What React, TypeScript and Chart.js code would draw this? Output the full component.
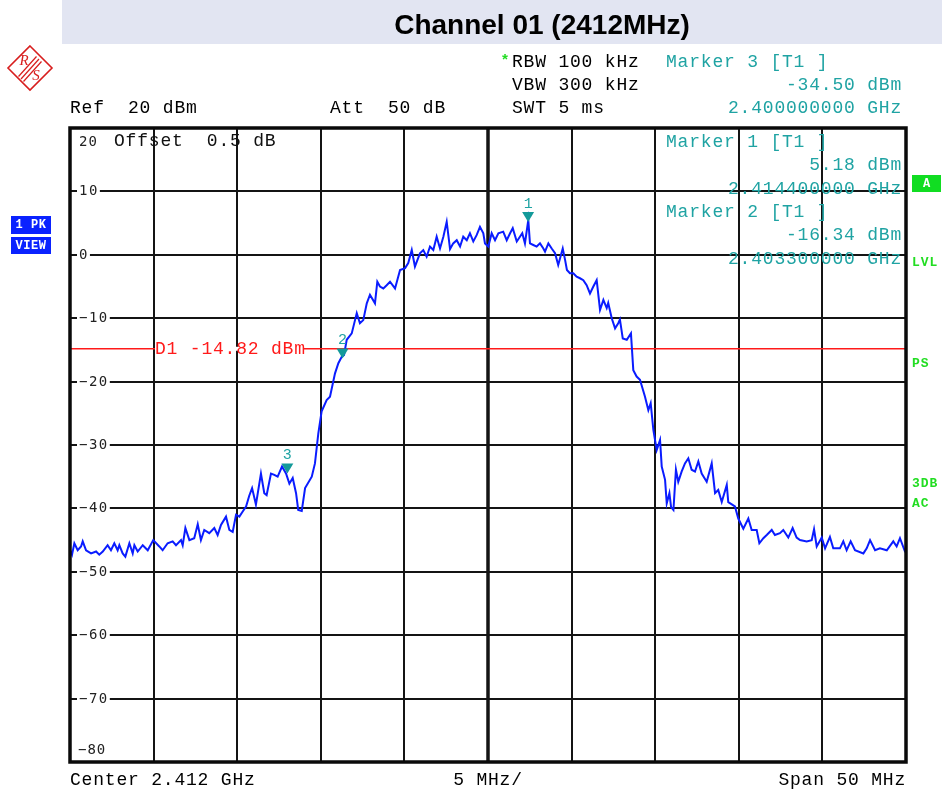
import React, { useEffect, useRef } from "react";
import { Chart, registerables } from "chart.js";

Chart.register(...registerables);

// ---- data ----
const START_MHZ = 2387;
const SPAN_MHZ = 50;
const DIV_MHZ = 5;
const REF_DBM = 20;
const BOTTOM_DBM = -80;

// offset from start frequency (MHz)
const spanOffsetMHz = [
  0.0, 0.12, 0.26, 0.46, 0.66, 0.76, 0.96, 1.26, 1.56, 1.75, 1.96, 2.25, 2.45, 2.65, 2.85, 2.95,
  3.15, 3.31, 3.55, 3.75, 3.85, 4.05, 4.35, 4.65, 4.98, 5.34, 5.54, 5.84, 6.14, 6.34, 6.64, 6.74,
  6.9, 7.14, 7.43, 7.64, 7.83, 8.03, 8.33, 8.63, 8.83, 9.03, 9.33, 9.53, 9.73, 9.93, 10.13, 10.33,
  10.53, 10.72, 10.89, 11.12, 11.42, 11.62, 11.76, 12.02, 12.22, 12.42, 12.68, 12.92, 13.12, 13.32,
  13.52, 13.65, 13.86, 14.06, 14.46, 14.65, 14.85, 15.05, 15.35, 15.55, 15.85, 16.05, 16.25, 16.39,
  16.55, 16.85, 17.15, 17.34, 17.54, 17.75, 17.94, 18.24, 18.38, 18.54, 18.74, 18.94, 19.14, 19.44,
  19.74, 20.04, 20.23, 20.44, 20.63, 20.93, 21.13, 21.33, 21.53, 21.73, 21.93, 22.13, 22.33, 22.53,
  22.73, 22.92, 23.13, 23.33, 23.52, 23.73, 23.92, 24.12, 24.32, 24.52, 24.72, 24.82, 25.02, 25.22,
  25.42, 25.62, 25.91, 26.12, 26.32, 26.48, 26.72, 26.91, 27.05, 27.21, 27.41, 27.51, 27.71, 27.91,
  28.11, 28.31, 28.41, 28.61, 28.81, 29.01, 29.2, 29.47, 29.61, 29.72, 29.9, 30.1, 30.3, 30.5,
  30.7, 30.9, 31.1, 31.3, 31.5, 31.7, 31.9, 32.1, 32.19, 32.4, 32.6, 32.79, 32.89, 33.06, 33.3,
  33.55, 33.69, 33.89, 34.09, 34.39, 34.59, 34.73, 34.89, 35.09, 35.29, 35.39, 35.59, 35.69, 35.85,
  35.95, 36.09, 36.24, 36.38, 36.58, 36.78, 36.98, 37.18, 37.38, 37.58, 37.78, 38.08, 38.38, 38.58,
  38.77, 38.98, 39.28, 39.37, 39.77, 39.97, 40.27, 40.57, 40.77, 41.07, 41.23, 41.47, 41.67, 41.97,
  42.16, 42.46, 42.66, 42.96, 43.22, 43.46, 43.66, 44.06, 44.36, 44.5, 44.66, 44.96, 45.16, 45.45,
  45.65, 46.05, 46.25, 46.45, 46.69, 46.95, 47.45, 47.65, 47.85, 48.15, 48.44, 48.85, 49.24, 49.44,
  49.64, 49.94, 50.0,
];

const levelDbm = [
  -46.6, -47.3, -45.5, -46.6, -46.0, -45.2, -46.6, -47.1, -46.8, -47.3, -46.8, -45.8, -46.6, -45.5, -46.6, -45.8,
  -47.1, -47.6, -45.5, -47.1, -45.8, -46.8, -45.8, -46.6, -45.0, -46.0, -46.6, -45.5, -45.2, -45.8, -45.0, -45.8,
  -43.1, -45.0, -44.7, -42.5, -45.0, -43.4, -43.9, -43.1, -44.2, -42.6, -41.3, -43.4, -43.7, -41.0, -41.3, -40.5,
  -39.7, -38.0, -36.8, -39.4, -34.5, -37.6, -37.9, -34.5, -34.7, -35.0, -33.4, -34.5, -36.1, -35.2,
  -37.6, -40.25, -40.4, -36.8, -35.0, -32.9, -28.2, -24.7, -22.9, -22.4, -18.7, -17.1, -16.1, -15.8,
  -13.4, -12.4, -9.2, -10.8, -10.3, -7.65, -6.3, -7.65, -4.25, -5.0, -5.3, -4.8, -4.25, -5.3,
  -2.4, -2.1, -1.3, 0.75, -1.85, 0.24, 0.75, -0.3, 1.3, 0.75, 2.85, 1.0, 2.85, 5.2,
  0.9, 1.8, 2.3, 1.3, 2.85, 2.3, 3.4, 2.1, 3.1, 4.4, 3.4, 1.8, 1.3, 3.4,
  2.3, 3.4, 3.65, 2.3, 3.4, 4.2, 2.1, 2.85, 3.4, 1.8, 5.5, 1.8, 1.55, 1.3,
  1.8, 1.0, 0.5, 1.8, 1.0, 0.25, -1.6, 1.0, -0.8, -2.4, -2.9, -2.9, -3.45, -3.7,
  -4.0, -4.8, -6.1, -5.0, -4.0, -8.7, -7.1, -8.4, -7.6, -10.0, -11.6, -10.8, -10.2, -13.2, -13.4,
  -12.4, -18.2, -19.2, -19.7, -22.4, -24.5, -23.4, -27.6, -30.8, -29.2, -33.4, -35.5, -39.2, -37.6,
  -39.8, -40.25, -33.9, -35.8, -34.2, -32.9, -32.1, -33.9, -34.2, -32.6, -34.5, -35.8, -32.9, -37.6,
  -37.1, -39.0, -36.3, -39.0, -39.7, -41.6, -43.2, -41.6, -43.4, -43.4, -45.5, -44.7, -44.2, -43.4,
  -44.2, -43.9, -43.4, -44.6, -43.1, -44.6, -45.0, -45.2, -45.0, -43.3, -46.0, -44.6, -46.3, -44.5,
  -46.3, -46.3, -45.2, -46.6, -45.2, -46.6, -47.1, -46.3, -45.0, -46.6, -46.3, -46.6, -45.2, -46.0,
  -44.7, -46.8, -46.8,
];

const yTickValues = [10, 0, -10, -20, -30, -40, -50, -60, -70];
const displayLineDbm = -14.82;
const displayLineLabel = "D1 -14.82 dBm";

const markerNames = ["1", "2", "3"];
const markerFreqMHz = [2414.4, 2403.3, 2400.0];
const markerLevelDbm = [5.18, -16.34, -34.5];

const titleText = "Channel 01 (2412MHz)";
const headerLeft = ["Ref  20 dBm", "Att  50 dB"];
const headerMid = ["RBW 100 kHz", "VBW 300 kHz", "SWT 5 ms"];
const marker3Block = ["Marker 3 [T1 ]", "-34.50 dBm", "2.400000000 GHz"];
const marker1Block = ["Marker 1 [T1 ]", "5.18 dBm", "2.414400000 GHz"];
const marker2Block = ["Marker 2 [T1 ]", "-16.34 dBm", "2.403300000 GHz"];
const offsetText = "Offset  0.5 dB";
const footer = ["Center 2.412 GHz", "5 MHz/", "Span 50 MHz"];
const sideLabels = ["LVL", "PS", "3DB", "AC"];

// ---- styles ----
const MONO = '"Liberation Mono", "DejaVu Sans Mono", monospace';
const TEAL = "#1fa3a3";
const TRACE = "#0a1cff";
const GREEN = "#22dd22";

function text(
  ctx: CanvasRenderingContext2D,
  s: string,
  x: number,
  y: number,
  font: string,
  color: string,
  align: CanvasTextAlign = "left",
  spacing = "0px"
) {
  ctx.save();
  ctx.font = font;
  (ctx as any).letterSpacing = spacing;
  ctx.fillStyle = color;
  ctx.textAlign = align;
  ctx.textBaseline = "middle";
  ctx.fillText(s, x, y);
  ctx.restore();
}

const HDR_FONT = `18px ${MONO}`;
const HDR_SP = "0.8px";

const analyzerPlugin = {
  id: "analyzer",
  beforeDraw(chart: any) {
    const ctx: CanvasRenderingContext2D = chart.ctx;
    ctx.save();
    ctx.fillStyle = "#ffffff";
    ctx.fillRect(0, 0, chart.width, chart.height);
    // title band
    ctx.fillStyle = "#e2e5f2";
    ctx.fillRect(62, 0, chart.width - 62, 44);
    ctx.restore();
    text(ctx, titleText, 542, 26, `bold 28px "Liberation Sans", Arial, sans-serif`, "#000", "center");

    // R&S logo
    ctx.save();
    ctx.strokeStyle = "#d81e1e";
    ctx.lineWidth = 1.6;
    const cx = 30, cy = 68, r = 22;
    ctx.beginPath();
    ctx.moveTo(cx, cy - r);
    ctx.lineTo(cx + r, cy);
    ctx.lineTo(cx, cy + r);
    ctx.lineTo(cx - r, cy);
    ctx.closePath();
    ctx.stroke();
    ctx.lineWidth = 1.2;
    for (const d of [-2.5, 0, 2.5]) {
      ctx.beginPath();
      ctx.moveTo(cx - 9 + d, cy + 11 + d);
      ctx.lineTo(cx + 9 + d, cy - 9 + d);
      ctx.stroke();
    }
    ctx.restore();
    text(ctx, "R", 24, 61, `italic 15px "Liberation Serif", serif`, "#d81e1e", "center");
    text(ctx, "S", 36, 76, `italic 15px "Liberation Serif", serif`, "#d81e1e", "center");

    // header
    text(ctx, "*", 505, 61, `bold 15px ${MONO}`, GREEN, "center");
    text(ctx, headerMid[0], 512, 62, HDR_FONT, "#000", "left", HDR_SP);
    text(ctx, headerMid[1], 512, 85, HDR_FONT, "#000", "left", HDR_SP);
    text(ctx, headerMid[2], 512, 108, HDR_FONT, "#000", "left", HDR_SP);
    text(ctx, headerLeft[0], 70, 108, HDR_FONT, "#000", "left", HDR_SP);
    text(ctx, headerLeft[1], 330, 108, HDR_FONT, "#000", "left", HDR_SP);
    text(ctx, marker3Block[0], 666, 62, HDR_FONT, TEAL, "left", HDR_SP);
    text(ctx, marker3Block[1], 902, 85, HDR_FONT, TEAL, "right", HDR_SP);
    text(ctx, marker3Block[2], 902, 108, HDR_FONT, TEAL, "right", HDR_SP);

    // left blue boxes
    ctx.save();
    ctx.fillStyle = "#0a22ff";
    ctx.fillRect(11, 216, 40, 18);
    ctx.fillRect(11, 237, 40, 17);
    ctx.restore();
    text(ctx, "1 PK", 31, 225, `bold 12px ${MONO}`, "#fff", "center", "0.5px");
    text(ctx, "VIEW", 31, 245.5, `bold 12px ${MONO}`, "#fff", "center", "0.5px");

    // right green labels
    ctx.save();
    ctx.fillStyle = "#11dd22";
    ctx.fillRect(912, 175, 29, 17);
    ctx.restore();
    text(ctx, "A", 926.5, 183.5, `bold 12px ${MONO}`, "#fff", "center");
    const sideY = [263, 364, 484, 504];
    sideLabels.forEach((s, i) =>
      text(ctx, s, 912, sideY[i], `bold 13px ${MONO}`, GREEN, "left", "1px")
    );

    // footer
    text(ctx, footer[0], 70, 780, HDR_FONT, "#000", "left", HDR_SP);
    text(ctx, footer[1], 488, 780, HDR_FONT, "#000", "center", HDR_SP);
    text(ctx, footer[2], 906, 780, HDR_FONT, "#000", "right", HDR_SP);
  },
  beforeDatasetsDraw(chart: any) {
    const ctx: CanvasRenderingContext2D = chart.ctx;
    const xs = chart.scales.x;
    const ys = chart.scales.y;
    const { left, right, top, bottom } = chart.chartArea;
    ctx.save();
    ctx.strokeStyle = "#141414";
    // vertical grid
    for (let i = 1; i < SPAN_MHZ / DIV_MHZ; i++) {
      const x = Math.round(xs.getPixelForValue(START_MHZ + i * DIV_MHZ));
      ctx.lineWidth = i === 5 ? 3.5 : 2;
      ctx.beginPath();
      ctx.moveTo(x, top);
      ctx.lineTo(x, bottom);
      ctx.stroke();
    }
    // horizontal grid
    ctx.lineWidth = 2;
    for (let v = REF_DBM - 10; v > BOTTOM_DBM; v -= 10) {
      const y = Math.round(ys.getPixelForValue(v));
      ctx.beginPath();
      ctx.moveTo(left, y);
      ctx.lineTo(right, y);
      ctx.stroke();
    }
    ctx.restore();

    // y tick labels on the grid
    const tickFont = `14px "DejaVu Sans Mono", monospace`;
    yTickValues.forEach((v) => {
      const y = Math.round(ys.getPixelForValue(v));
      const s = String(v).replace("-", "\u2212");
      ctx.save();
      ctx.font = tickFont;
      (ctx as any).letterSpacing = "1.5px";
      const w = ctx.measureText(s).width;
      ctx.fillStyle = "#fff";
      ctx.fillRect(left + 7, y - 3, w + 3, 6);
      ctx.restore();
      text(ctx, s, left + 9, y, tickFont, "#222", "left", "1.5px");
    });
    text(ctx, String(REF_DBM), left + 9, top + 14, tickFont, "#222", "left", "1px");
    text(ctx, String(BOTTOM_DBM).replace("-", "\u2212"), left + 8, bottom - 12, tickFont, "#222", "left", "1px");

    // display line
    const yd = ys.getPixelForValue(displayLineDbm);
    ctx.save();
    ctx.strokeStyle = "#ff1a1a";
    ctx.lineWidth = 1.5;
    ctx.beginPath();
    ctx.moveTo(left, yd);
    ctx.lineTo(right, yd);
    ctx.stroke();
    ctx.font = HDR_FONT;
    (ctx as any).letterSpacing = HDR_SP;
    const lw = ctx.measureText(displayLineLabel).width;
    ctx.fillStyle = "#fff";
    ctx.fillRect(155, yd - 2, lw - 2, 4);
    ctx.restore();
    text(ctx, displayLineLabel, 155, yd, HDR_FONT, "#ff1a1a", "left", HDR_SP);

    // in-plot texts
    text(ctx, offsetText, 114, 141, HDR_FONT, "#111", "left", HDR_SP);
  },
  afterDatasetsDraw(chart: any) {
    const ctx: CanvasRenderingContext2D = chart.ctx;
    const xs = chart.scales.x;
    const ys = chart.scales.y;
    const { left, right, top, bottom } = chart.chartArea;

    // markers
    markerNames.forEach((n, i) => {
      const px = xs.getPixelForValue(markerFreqMHz[i]);
      const py = ys.getPixelForValue(markerLevelDbm[i]);
      ctx.save();
      ctx.fillStyle = "#139a9a";
      ctx.beginPath();
      ctx.moveTo(px - 6, py - 10);
      ctx.lineTo(px + 6, py - 10);
      ctx.lineTo(px, py);
      ctx.closePath();
      ctx.fill();
      ctx.restore();
      text(ctx, n, px, py - 18, `15px ${MONO}`, TEAL, "center");
    });

    // border
    ctx.save();
    ctx.strokeStyle = "#0a0a0a";
    ctx.lineWidth = 3.5;
    ctx.strokeRect(left, top, right - left, bottom - top);
    ctx.restore();

    // marker readouts
    const rows = [142, 165, 189, 212, 235, 259];
    text(ctx, marker1Block[0], 666, rows[0], HDR_FONT, TEAL, "left", HDR_SP);
    text(ctx, marker1Block[1], 902, rows[1], HDR_FONT, TEAL, "right", HDR_SP);
    text(ctx, marker1Block[2], 902, rows[2], HDR_FONT, TEAL, "right", HDR_SP);
    text(ctx, marker2Block[0], 666, rows[3], HDR_FONT, TEAL, "left", HDR_SP);
    text(ctx, marker2Block[1], 902, rows[4], HDR_FONT, TEAL, "right", HDR_SP);
    text(ctx, marker2Block[2], 902, rows[5], HDR_FONT, TEAL, "right", HDR_SP);
  },
};

export default function App() {
  const ref = useRef<HTMLCanvasElement | null>(null);
  useEffect(() => {
    if (!ref.current) return;
    const points = spanOffsetMHz.map((o, i) => ({ x: START_MHZ + o, y: levelDbm[i] }));
    const chart = new Chart(ref.current, {
      type: "line",
      data: {
        datasets: [
          {
            data: points,
            borderColor: TRACE,
            borderWidth: 2,
            pointRadius: 0,
            tension: 0,
            fill: false,
          },
        ],
      },
      options: {
        responsive: false,
        animation: false,
        devicePixelRatio: 1,
        layout: { padding: { left: 70, right: 36, top: 128, bottom: 29 } },
        scales: {
          x: { type: "linear", min: START_MHZ, max: START_MHZ + SPAN_MHZ, display: false },
          y: { type: "linear", min: BOTTOM_DBM, max: REF_DBM, display: false },
        },
        plugins: { legend: { display: false }, tooltip: { enabled: false } },
      },
      plugins: [analyzerPlugin],
    } as any);
    return () => chart.destroy();
  }, []);
  return (
    <div style={{ position: "absolute", left: 0, top: 0, width: 942, height: 791, background: "#fff" }}>
      <canvas ref={ref} width={942} height={791} style={{ display: "block" }} />
    </div>
  );
}
